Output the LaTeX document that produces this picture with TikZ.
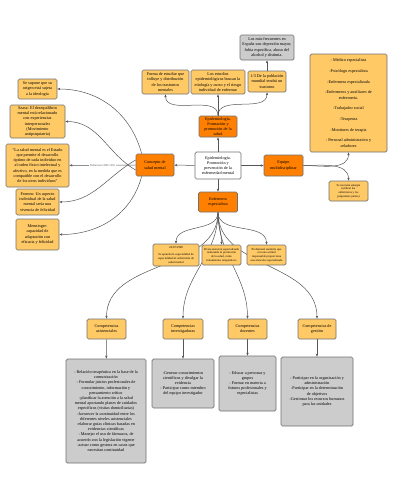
\documentclass[tikz,border=0pt]{standalone}
\usepackage{fontspec}
\setmainfont{Liberation Serif}
\usetikzlibrary{arrows.meta,positioning}
\definecolor{naranja}{HTML}{FF8000}
\definecolor{amarillo}{HTML}{FFC966}
\definecolor{gris}{HTML}{CCCCCC}
\definecolor{borde}{HTML}{707070}
\definecolor{trazo}{HTML}{555555}
\pgfdeclarelayer{fondo}
\pgfsetlayers{fondo,main}
\tikzset{
  caja/.style={draw=borde,line width=0.7pt,rounded corners=1.5pt,align=center,
    inner sep=1pt,font=\fontsize{4.2}{5.2}\selectfont},
  cajanaranja/.style={caja,fill=naranja},
  cajaamarilla/.style={caja,fill=amarillo},
  cajagris/.style={caja,fill=gris},
  cajablanca/.style={caja,fill=white},
  chica/.style={font=\fontsize{3}{3.7}\selectfont},
  flechita/.style={->,draw=trazo,line width=0.5pt},
  etiqueta/.style={fill=white,inner sep=0.5pt,text=trazo,font=\fontsize{2.8}{3.2}\selectfont}
}
\begin{document}
\begin{tikzpicture}[x=1pt,y=-1pt,>={Stealth[length=3pt,width=2.4pt]}]
\useasboundingbox (0,0) rectangle (412,480);
% nodo central y sus cuatro ramas
\node[cajablanca,minimum width=46pt,minimum height=27pt] (centro) at (218,165.5)
  {Epidemiología.\\Promoción y\\prevención de la\\enfermedad mental};
\node[cajanaranja,minimum width=38pt,minimum height=21pt] (epi) at (218,126.5)
  {Epidemiología.\\Formación y\\promoción de la\\salud};
\node[cajanaranja,minimum width=38pt,minimum height=22pt] (concepto) at (155,165)
  {Concepto de\\salud mental};
\node[cajanaranja,minimum width=39pt,minimum height=21pt] (equipo) at (283.5,165.5)
  {Equipo\\multidisciplinar};
\node[cajanaranja,minimum width=39pt,minimum height=20pt] (enfermera) at (218,202)
  {Enfermera\\especialista};
% arriba
\node[cajaamarilla,minimum width=47pt,minimum height=24pt] (forma) at (165.5,82)
  {Forma de estudiar que\\influye y distribución\\de los trastornos\\mentales};
\node[cajaamarilla,minimum width=54pt,minimum height=24pt] (estudios) at (218,82)
  {Los estudios\\epidemiológicos buscan la\\etiología y curso y el riesgo\\individual de enfermar};
\node[cajaamarilla,minimum width=38pt,minimum height=21pt] (tercio) at (267,81.5)
  {1/3 De la población\\mundial tendrá un\\trastorno};
\node[cajagris,minimum width=54pt,minimum height=25pt] (frecuentes) at (267,47.5)
  {Los más frecuentes en\\España son depresión mayor,\\fobia específica, abuso del\\alcohol y distimia.};
% izquierda
\node[cajaamarilla,minimum width=39pt,minimum height=20pt] (supone) at (37.5,89)
  {Se supone que su\\origen está sujeta\\a la ideología};
\node[cajaamarilla,minimum width=55pt,minimum height=33pt] (szasz) at (37.5,121.5)
  {Szasz: El desequilibrio\\mental está relacionado\\con experiencias\\interpersonales\\(Movimiento\\antipsiquiatría)};
\node[cajaamarilla,minimum width=63pt,minimum height=43pt] (oms) at (37.5,165.5)
  {“La salud mental es el Estado\\que permite el desarrollo\\óptimo de cada individuo en\\al orden físico intelectual y\\afectivo, en la medida que es\\compatible con el desarrollo\\de los otros individuos”};
\node[cajaamarilla,minimum width=43pt,minimum height=26pt] (fromm) at (37.5,202)
  {Fromm: Un aspecto\\individual de la salud\\mental sería una\\vivencia de felicidad};
\node[cajaamarilla,minimum width=43pt,minimum height=31pt] (menninger) at (37.5,234.5)
  {Menninger:\\capacidad de\\adaptación con\\eficacia y felicidad};
% derecha
\node[cajaamarilla,minimum width=77pt,minimum height=98pt] (miembros) at (348.5,103)
  {- Médico especialista\\[5.5pt]-Psicólogo especialista\\[5.5pt]-Enfermera especializada\\[5.5pt]
   -Enfermeros y auxiliares de\\enfermería.\\[5.5pt]-Trabajador social\\[5.5pt]-Terapeuta\\[5.5pt]
   -Monitores de terapia\\[5.5pt]- Personal administrativo y\\celadores};
\node[cajaamarilla,chica,minimum width=39pt,minimum height=20pt] (sinergia) at (348.5,191)
  {Se necesita sinergia\\(utilizar los\\enfermeros y los\\psiquiatras juntos)};
% debajo de la enfermera
\node[cajaamarilla,chica,minimum width=46pt,minimum height=22pt] (fecha) at (176,255)
  {24/07/1998\\[3pt]Se aprueba la especialidad de\\especialidad de enfermería de\\salud mental};
\node[cajaamarilla,chica,minimum width=39pt,minimum height=20pt] (presta) at (221.5,255)
  {Presta atención especializada\\realizando la promoción\\de la salud, como\\tratamientos terapéuticos};
\node[cajaamarilla,chica,minimum width=39pt,minimum height=20pt] (profesional) at (266.5,255)
  {Profesional sanitario que\\con una actitud\\responsable proporciona\\una atención especializada};
% competencias
\node[cajaamarilla,minimum width=39pt,minimum height=20pt] (asist) at (106.5,329)
  {Competencias\\asistenciales};
\node[cajaamarilla,minimum width=40pt,minimum height=20pt] (invest) at (183,329)
  {Competencias\\investigadoras};
\node[cajaamarilla,minimum width=39pt,minimum height=20pt] (docen) at (247.5,329)
  {Competencias\\docentes};
\node[cajaamarilla,minimum width=38pt,minimum height=20pt] (gest) at (317,329)
  {Competencias de\\gestión};
\node[cajagris,minimum width=80pt,minimum height=104pt] (lasist) at (106,411)
  {- Relación terapéutica en la base de la\\comunicación\\- Formular juicios profesionales de\\conocimiento, información y\\pensamiento crítico\\
   -planificar la atención a la salud\\mental aportando planes de cuidados\\específicos (visitas domiciliarias)\\
   -favorecer la continuidad entre los\\diferentes niveles asistenciales\\-elaborar guías clínicas basadas en\\evidencias científicas\\
   - Manejar el uso de fármacos, de\\acuerdo con la legislación vigente\\-actuar como gestora en casos que\\necesitan continuidad};
\node[cajagris,minimum width=62pt,minimum height=49pt] (linvest) at (183,383.5)
  {-Generar conocimientos\\científicos y divulgar la\\evidencia\\- Participar como miembro\\del equipo investigador};
\node[cajagris,minimum width=57pt,minimum height=55pt] (ldocen) at (247.5,383.5)
  {- Educar a personas y\\grupos\\- Formar en materia a\\futuros profesionales y\\especialistas};
\node[cajagris,minimum width=72pt,minimum height=69pt] (lgest) at (317,391.5)
  {- Participar en la organización y\\administración\\-Participar en la determinación\\de objetivos\\-Gestionar los recursos humanos\\para las unidades};
% conectores, por debajo de las cajas
\begin{pgfonlayer}{fondo}
\draw[flechita] (centro) -- (epi);
\draw[flechita] (centro) -- (concepto);
\draw[flechita] (centro) -- (equipo);
\draw[flechita] (centro) -- (enfermera);
\draw[flechita] (epi.north) to[out=90,in=-90] (forma.south);
\draw[flechita] (epi.north) -- (estudios.south);
\draw[flechita] (epi.north) to[out=90,in=-90] (tercio.south);
\draw[flechita] (tercio) -- (frecuentes);
\draw[flechita] ([xshift=6pt]concepto.north west) to[out=105,in=0] (supone.east);
\draw[flechita] ([yshift=-5pt]concepto.west) to[out=150,in=0] (szasz.east);
\draw[flechita] (concepto) -- node[etiqueta] {Definición OMS 1950} (oms);
\draw[flechita] ([yshift=5pt]concepto.west) to[out=-150,in=0] (fromm.east);
\draw[flechita] ([xshift=6pt]concepto.south west) to[out=-105,in=0] (menninger.east);
\draw[flechita] (equipo.east) to[out=0,in=-90] (miembros.south);
\draw[flechita] (equipo.east) to[out=0,in=90] (sinergia.north);
\draw[flechita] (enfermera.south) to[out=-90,in=90] (fecha.north);
\draw[flechita] (enfermera.south) to[out=-90,in=90] (presta.north);
\draw[flechita] (enfermera.south) to[out=-90,in=90] (profesional.north);
\draw[flechita] (enfermera.south) to[out=-90,in=90] (asist.north);
\draw[flechita] (enfermera.south) to[out=-90,in=90] (invest.north);
\draw[flechita] (enfermera.south) to[out=-90,in=90] (docen.north);
\draw[flechita] (enfermera.south) to[out=-90,in=90] (gest.north);
\draw[flechita] (asist) -- (lasist);
\draw[flechita] (invest) -- (linvest);
\draw[flechita] (docen) -- (ldocen);
\draw[flechita] (gest) -- (lgest);
\end{pgfonlayer}
\end{tikzpicture}
\end{document}
